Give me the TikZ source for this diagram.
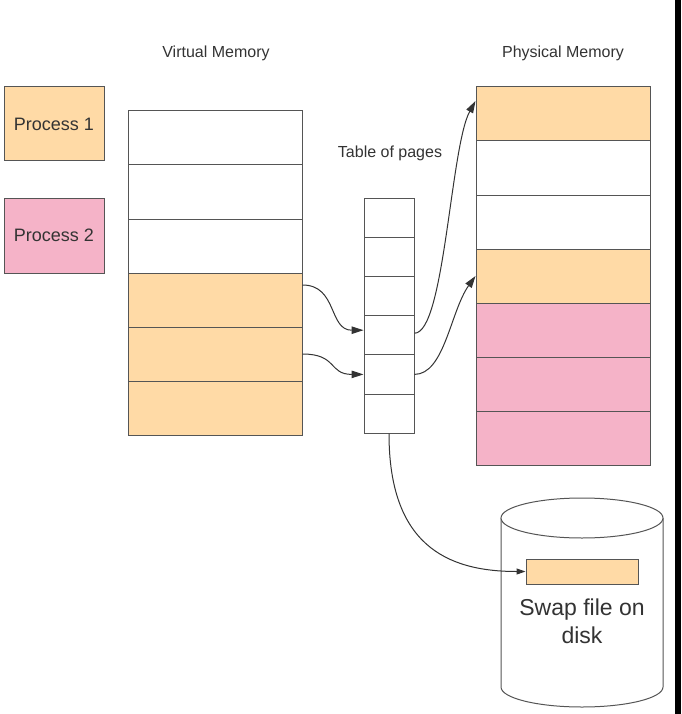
\documentclass[tikz,border=0pt]{standalone}
\usepackage{fontspec}
\setmainfont{Liberation Sans}
\usetikzlibrary{arrows.meta, positioning}
\definecolor{orng}{HTML}{FFDAA6}
\definecolor{pnk}{HTML}{F5B3C8}
\definecolor{edge}{HTML}{555555}
\definecolor{ink}{HTML}{333333}
\tikzset{
  cell/.style={draw=edge, line width=1pt, inner sep=0pt, minimum width=174pt, minimum height=54pt},
  slot/.style={draw=edge, line width=1pt, inner sep=0pt, minimum width=50pt, minimum height=39.2pt, fill=white},
  link/.style={draw=ink, line width=1pt, -{Triangle[length=12pt,width=7.5pt]}},
  lbl/.style={text=ink, font=\fontsize{16}{19}\selectfont}
}

\begin{document}
\begin{tikzpicture}[x=1pt, y=-1pt]
        \useasboundingbox (0,0) rectangle (681,714);
        \fill[black] (675,0) rectangle (681,714);
        % titles
        \node[lbl] (vtitle) at (216,53) {Virtual Memory};
        \node[lbl] (ptitle) at (563,53) {Physical Memory};
        \node[lbl] (ttitle) at (390,153) {Table of pages};
        % processes
        \node[cell, fill=orng, minimum width=100pt, minimum height=74pt, lbl, font=\fontsize{18}{21}\selectfont] (proc1) at (54,124) {Process 1};
        \node[cell, fill=pnk, minimum width=100pt, minimum height=75pt, lbl, font=\fontsize{18}{21}\selectfont] (proc2) at (54,235.5) {Process 2};
        % memories and table
        \foreach \C [count=\i] in {white,white,white,orng,orng,orng}
          \node[cell, fill=\C] (vm\i) at (215,{84+54*\i}) {};
        \foreach \C [count=\i] in {orng,white,white,orng,pnk,pnk,pnk}
          \node[cell, fill=\C] (pm\i) at (563,{60+54*\i}) {};
        \foreach \i in {1,...,6}
          \node[slot] (pt\i) at (389,{178.4+39.2*\i}) {};
        % disk
        \draw[draw=edge, line width=1pt, fill=white] (501,518) -- (501,687)
          arc[start angle=180, end angle=0, x radius=81, y radius=20] -- (663,518);
        \draw[draw=edge, line width=1pt, fill=white] (582,518) ellipse[x radius=81, y radius=20];
        \node[cell, fill=orng, minimum width=112pt, minimum height=25pt] (swap) at (582,571.5) {};
        \node[lbl, align=center, font=\fontsize{23}{28}\selectfont] (disk) at (582,621) {Swap file on\\disk};
        % connectors
        \draw[link] ([yshift=15pt]vm4.east) .. controls +(35,0) and +(-35,0) .. ([yshift=5pt]pt4.west);
        \draw[link] (vm5.east) .. controls +(35,0) and +(-35,0) .. (pt5.west);
        \draw[link] ([yshift=2pt]pt4.east) .. controls +(30,0) and +(-25,45) .. ([yshift=13pt]pm1.west);
        \draw[link] (pt5.east) .. controls +(30,0) and +(-25,35) .. (pm4.west);
        \draw[link, -{Triangle[length=9pt,width=6pt]}] (pt6.south) .. controls +(0,110) and +(-80,0) .. (swap.west);
      \end{tikzpicture}
\end{document}
